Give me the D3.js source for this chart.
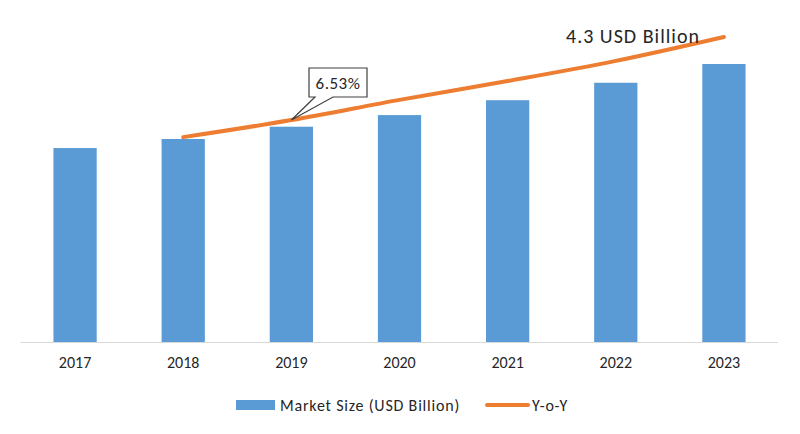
<!DOCTYPE html>
<html>
<head>
<meta charset="utf-8">
<script src="https://cdn.jsdelivr.net/npm/d3@7"></script>
<style>
  html, body { margin: 0; padding: 0; background: #fff; }
  svg { display: block; }
  text { font-family: Carlito, Lato, "Open Sans", sans-serif; fill: #262626; }
</style>
</head>
<body>
<svg id="chart" width="800" height="434"></svg>
<script>
const years = ["2017", "2018", "2019", "2020", "2021", "2022", "2023"];
const marketSize = [3.00, 3.14, 3.33, 3.51, 3.74, 4.01, 4.30];
const yoyYears = ["2018", "2019", "2020", "2021", "2022", "2023"];
const yoyValues = [5.99, 6.49, 7.08, 7.63, 8.22, 8.92];
const calloutText = "6.53%";
const calloutYear = "2019";
const endLabel = "4.3 USD Billion";
const legendLabels = ["Market Size (USD Billion)", "Y-o-Y"];

const svg = d3.select("#chart");
const baseY = 342;
const x = d3.scaleBand().domain(years).range([21, 778]).paddingInner(0.6).paddingOuter(0.3);
const y = d3.scaleLinear().domain([0, 5]).range([baseY, baseY - 5 * 64.65]);
const y2 = d3.scaleLinear().domain([0, 10]).range([baseY, 0]);

// bars
svg.append("g").selectAll("rect").data(years).join("rect")
  .attr("x", d => x(d))
  .attr("width", x.bandwidth())
  .attr("y", (d, i) => y(marketSize[i]))
  .attr("height", (d, i) => baseY - y(marketSize[i]))
  .attr("fill", "#5B9BD5");

// axis
const xAxis = d3.axisBottom(x).tickSize(0).tickPadding(15);
const ax = svg.append("g").attr("transform", `translate(0,${baseY})`).call(xAxis);
ax.select(".domain").attr("stroke", "#D9D9D9").attr("stroke-width", 1.2).attr("d", "M20.5,0.5H778");
ax.selectAll("text").attr("font-size", 16).attr("fill", "#262626")
  .style("font-family", "Carlito, Lato, sans-serif");

// line
const cx = d => x(d) + x.bandwidth() / 2;
const line = d3.line().x((d, i) => cx(yoyYears[i])).y(d => y2(d)).curve(d3.curveMonotoneX);
svg.append("path").datum(yoyValues).attr("d", line)
  .attr("fill", "none").attr("stroke", "#ED7D31").attr("stroke-width", 4).attr("stroke-linecap", "round");

// callout
const ci = yoyYears.indexOf(calloutYear);
const tipX = cx(calloutYear), tipY = y2(yoyValues[ci]);
const bx = 309, by = 68, bw = 58, bh = 29;
svg.append("path")
  .attr("d", `M${bx},${by}H${bx + bw}V${by + bh}H${bx + 24}L${tipX},${tipY}L${bx + 6},${by + bh}H${bx}Z`)
  .attr("fill", "#fff").attr("stroke", "#404040").attr("stroke-width", 1.2);
svg.append("text").attr("x", bx + bw / 2).attr("y", by + 21).attr("text-anchor", "middle")
  .attr("font-size", 17).attr("letter-spacing", 0.5).text(calloutText);

// end label
svg.append("text").attr("x", 633).attr("y", 43).attr("text-anchor", "middle")
  .attr("font-size", 20).attr("letter-spacing", 1).text(endLabel);

// legend
const lg = svg.append("g");
lg.append("rect").attr("x", 236).attr("y", 400).attr("width", 39).attr("height", 10).attr("fill", "#5B9BD5");
lg.append("text").attr("x", 280).attr("y", 411).attr("font-size", 16).attr("letter-spacing", 0.8).text(legendLabels[0]);
lg.append("line").attr("x1", 487).attr("x2", 528).attr("y1", 405).attr("y2", 405)
  .attr("stroke", "#ED7D31").attr("stroke-width", 4).attr("stroke-linecap", "round");
lg.append("text").attr("x", 532).attr("y", 411).attr("font-size", 16).attr("letter-spacing", 0.8).text(legendLabels[1]);
</script>
</body>
</html>
